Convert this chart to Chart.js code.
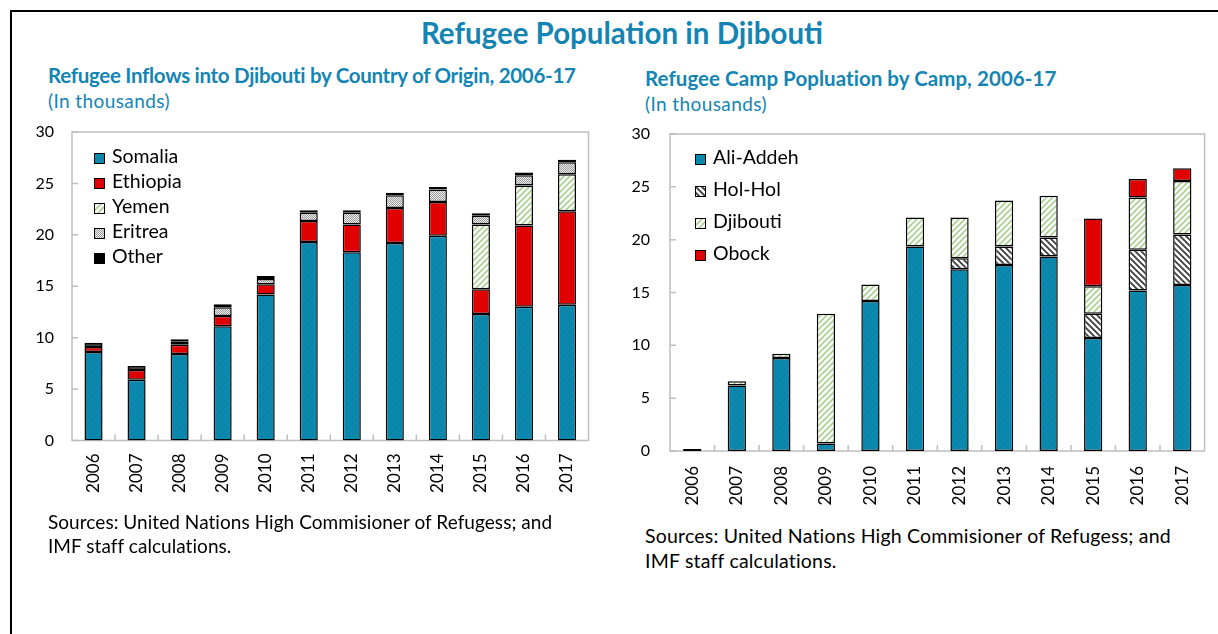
<!DOCTYPE html>
<html>
<head>
<meta charset="utf-8">
<script src="https://cdn.jsdelivr.net/npm/chart.js@4.4.1/dist/chart.umd.min.js"></script>
<style>
body{margin:0;width:1218px;height:634px;position:relative;background:#fff;font-family:Lato,"Open Sans",sans-serif;overflow:hidden}
.frame{position:absolute;left:10px;top:10px;width:1300px;height:700px;border-left:2px solid #000;border-top:2px solid #000}
.title{position:absolute;left:0;width:1244px;top:15px;text-align:center;font-size:29.5px;font-weight:bold;color:#1485b3}
.sub{position:absolute;font-size:20.5px;font-weight:bold;color:#1485b3;white-space:nowrap}
.unit{position:absolute;font-size:19px;color:#1485b3;white-space:nowrap;letter-spacing:0.4px}
.src{position:absolute;font-size:19px;line-height:24px;color:#000;white-space:nowrap}
canvas{position:absolute}
.legend{position:absolute;font-size:19.5px;color:#000}
.legend div{position:relative;line-height:20px;white-space:nowrap}
.legend span{display:inline-block;width:9px;height:9px;border:1.5px solid #000;margin-right:7px;vertical-align:-1px;background-size:6px 6px}
</style>
</head>
<body>
<div class="frame"></div>
<div class="title">Refugee Population in Djibouti</div>

<div class="sub" style="left:48px;top:63px;letter-spacing:-0.3px">Refugee Inflows into Djibouti by Country of Origin, 2006-17</div>
<div class="unit" style="left:48px;top:89px">(In thousands)</div>
<canvas id="left" width="590" height="400" style="left:20px;top:120px"></canvas>
<div class="legend" id="legLeft" style="left:94px;top:146px"></div>
<div class="src" style="left:48px;top:510px;letter-spacing:0.05px">Sources: United Nations High Commisioner of Refugess; and<br>IMF staff calculations.</div>

<div class="sub" style="left:645px;top:66px;letter-spacing:0.05px">Refugee Camp Popluation by Camp, 2006-17</div>
<div class="unit" style="left:645px;top:92px">(In thousands)</div>
<canvas id="right" width="598" height="400" style="left:620px;top:120px"></canvas>
<div class="legend" id="legRight" style="left:695px;top:147px"></div>
<div class="src" style="left:645px;top:523px;font-size:19.5px;line-height:25px;letter-spacing:0.2px">Sources: United Nations High Commisioner of Refugess; and<br>IMF staff calculations.</div>

<script>
var years=['2006','2007','2008','2009','2010','2011','2012','2013','2014','2015','2016','2017'];
var yTicks=[0,5,10,15,20,25,30];

// left chart: inflows by country of origin (thousands)
var somalia =[8.6,5.9,8.4,11.1,14.2,19.3,18.3,19.2,19.9,12.3,13.0,13.2];
var ethiopia=[0.5,0.95,0.9,1.0,1.0,2.05,2.7,3.4,3.3,2.4,7.9,9.1];
var yemen   =[0,0,0,0,0,0,0,0,0,6.3,3.9,3.6];
var eritrea =[0,0,0.3,0.85,0.5,0.8,1.15,1.25,1.2,0.85,1.0,1.15];
var other   =[0.4,0.4,0.25,0.3,0.3,0.25,0.25,0.25,0.25,0.25,0.25,0.25];

// right chart: camp population by camp (thousands)
var aliAddeh=[0.2,6.2,8.8,0.7,14.2,19.35,17.2,17.6,18.4,10.7,15.2,15.7];
var holHol  =[0,0,0,0,0,0,1.05,1.75,1.8,2.3,3.85,4.8];
var djibouti=[0,0.4,0.4,12.3,1.55,2.75,3.85,4.35,3.95,2.6,4.95,5.05];
var obock   =[0,0,0,0,0,0,0,0,0,6.4,1.75,1.2];

function tile(kind){
    var c=document.createElement('canvas');
    c.width=6;c.height=6;
    var g=c.getContext('2d');
    if(kind=='blue'){
        g.fillStyle='#0b89ae';g.fillRect(0,0,6,6);
        g.strokeStyle='#0a7da0';g.lineWidth=1;
        g.beginPath();g.moveTo(0,6);g.lineTo(6,0);g.moveTo(-3,3);g.lineTo(3,-3);g.moveTo(3,9);g.lineTo(9,3);g.stroke();
    }
    else if(kind=='green'||kind=='dark'){
        g.fillStyle='#fff';g.fillRect(0,0,6,6);
        g.strokeStyle=kind=='green'?'#a9d08e':'#3c3c3c';
        g.lineWidth=kind=='green'?1.6:1.8;
        g.beginPath();
        if(kind=='green'){g.moveTo(0,6);g.lineTo(6,0);g.moveTo(-3,3);g.lineTo(3,-3);g.moveTo(3,9);g.lineTo(9,3);}
        else{g.moveTo(0,0);g.lineTo(6,6);g.moveTo(-3,3);g.lineTo(3,9);g.moveTo(3,-3);g.lineTo(9,3);}
        g.stroke();
    }
    else if(kind=='dots'){
        for(var i=0;i<6;i++)for(var j=0;j<6;j++){
            g.fillStyle=((i+j)%2==0)?'#9d9d9d':'#ececec';
            g.fillRect(i,j,1,1);
        }
    }
    return c;
}

function fillFor(kind,ctx){
    if(kind=='red')return '#e00000';
    if(kind=='black')return '#000';
    return ctx.createPattern(tile(kind),'repeat');
}

function swatchCss(kind){
    if(kind=='red')return 'background:#e00000';
    if(kind=='black')return 'background:#000';
    return 'background-image:url('+tile(kind).toDataURL()+')';
}

var boxPlugin={
    id:'box',
    beforeDatasetsDraw:function(chart){
        var ctx=chart.ctx, a=chart.chartArea, x=chart.scales.x, y=chart.scales.y;
        ctx.save();
        ctx.strokeStyle='#bfbfbf';
        ctx.lineWidth=1.5;
        ctx.strokeRect(a.left,a.top,a.right-a.left,a.bottom-a.top);
        ctx.beginPath();
        y.ticks.forEach(function(t){
            var py=y.getPixelForValue(t.value);
            ctx.moveTo(a.left,py);ctx.lineTo(a.left+6,py);
        });
        for(var i=1;i<x.ticks.length;i++){
            var px=(x.getPixelForTick(i-1)+x.getPixelForTick(i))/2;
            ctx.moveTo(px,a.bottom);ctx.lineTo(px,a.bottom-6);
        }
        ctx.stroke();
        ctx.restore();
    }
};

function makeChart(id,legId,series,opt){
    var ctx=document.getElementById(id).getContext('2d');
    var sets=series.map(function(s){
        return {
            label:s.label,
            data:s.data.map(function(v){return v==0?null:v;}),
            backgroundColor:fillFor(s.kind,ctx),
            borderColor:'#000',
            borderWidth:1.5,
            borderSkipped:false,
            barPercentage:opt.barPct,
            categoryPercentage:1
        };
    });
    new Chart(ctx,{
        type:'bar',
        data:{labels:years,datasets:sets},
        options:{
            responsive:false,
            animation:false,
            layout:{padding:{top:opt.top,right:opt.right,left:0,bottom:0}},
            plugins:{legend:{display:false},tooltip:{enabled:false}},
            scales:{
                x:{
                    stacked:true,
                    grid:{display:false,drawTicks:false},
                    border:{display:false},
                    ticks:{color:'#000',font:{family:'Lato',size:17},minRotation:90,maxRotation:90,padding:opt.xPad},
                    afterFit:function(s){s.height=opt.xH;}
                },
                y:{
                    stacked:true,
                    min:0,max:30,
                    afterBuildTicks:function(s){s.ticks=yTicks.map(function(v){return {value:v};});},
                    grid:{display:false,drawTicks:false},
                    border:{display:false},
                    ticks:{color:'#000',font:{family:'Lato',size:16},padding:opt.yPad},
                    afterFit:function(s){s.width=opt.yW;s.paddingTop=0;s.paddingBottom=0;}
                }
            }
        },
        plugins:[boxPlugin]
    });
    var leg=document.getElementById(legId);
    series.forEach(function(s){
        var d=document.createElement('div');
        d.style.height=opt.legStep+'px';
        d.innerHTML='<span style="'+swatchCss(s.kind)+'"></span>'+s.label;
        leg.appendChild(d);
    });
}

makeChart('left','legLeft',[
    {label:'Somalia',data:somalia,kind:'blue'},
    {label:'Ethiopia',data:ethiopia,kind:'red'},
    {label:'Yemen',data:yemen,kind:'green'},
    {label:'Eritrea',data:eritrea,kind:'dots'},
    {label:'Other',data:other,kind:'black'}
],{top:12,right:21.5,xH:79.5,yW:52,xPad:13,yPad:18,barPct:0.42,legStep:25});

makeChart('right','legRight',[
    {label:'Ali-Addeh',data:aliAddeh,kind:'blue'},
    {label:'Hol-Hol',data:holHol,kind:'dark'},
    {label:'Djibouti',data:djibouti,kind:'green'},
    {label:'Obock',data:obock,kind:'red'}
],{top:14,right:8,xH:69,yW:50,xPad:15,yPad:20,barPct:0.41,legStep:32});
</script>
</body>
</html>
